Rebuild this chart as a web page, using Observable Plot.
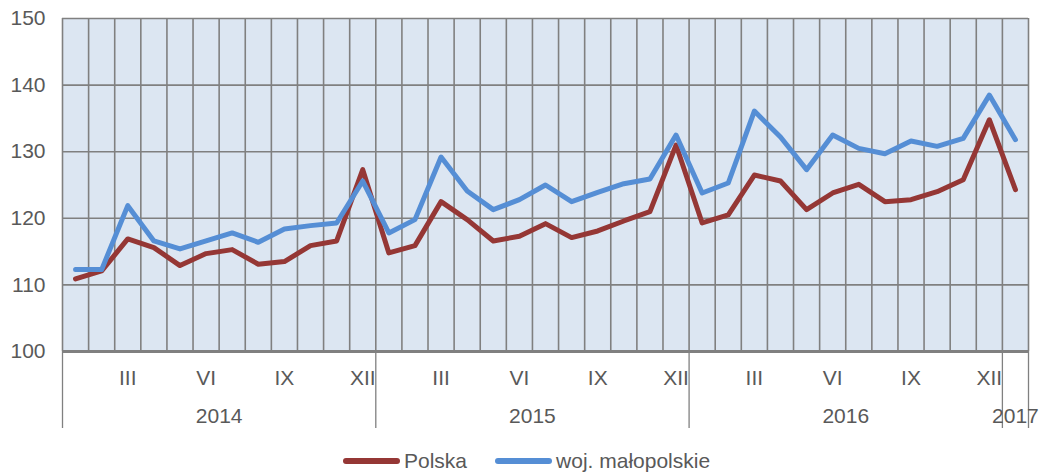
<!DOCTYPE html>
<html>
<head>
<meta charset="utf-8">
<script src="https://cdn.jsdelivr.net/npm/d3@7"></script>
<script src="https://cdn.jsdelivr.net/npm/@observablehq/plot@0.6"></script>
<style>
  html, body { margin: 0; padding: 0; background: #fff; }
  body { width: 1040px; height: 474px; position: relative; font-family: "Liberation Sans", Arial, sans-serif; }
  #legend { position: absolute; left: 343px; top: 449px; display: flex; align-items: center; font-size: 21px; color: #595959; white-space: nowrap; }
  #legend .item { display: flex; align-items: center; margin-right: 28px; }
  #legend .sw { width: 57px; height: 6px; border-radius: 3px; margin-right: 4px; }
</style>
</head>
<body>
<div id="chart"></div>
<div id="legend"></div>
<script>
// Years and number of months of each year shown
const years = [2014, 2015, 2016, 2017];
const monthsInYear = [12, 12, 12, 1];
const romanMonths = ["I","II","III","IV","V","VI","VII","VIII","IX","X","XI","XII"];
const shownMonths = ["III", "VI", "IX", "XII"];
const yTicks = [100, 110, 120, 130, 140, 150];

const seriesNames = ["Polska", "woj. małopolskie"];
const seriesColors = ["#953735", "#558ED5"];

// Values Jan 2014 .. Jan 2017
const polska = [
  110.9, 112.1, 116.9, 115.6, 112.9, 114.7, 115.3, 113.1, 113.5, 115.9, 116.6, 127.3,
  114.8, 115.9, 122.5, 119.8, 116.6, 117.3, 119.2, 117.1, 118.1, 119.6, 121.0, 131.0,
  119.3, 120.5, 126.5, 125.6, 121.3, 123.8, 125.1, 122.5, 122.8, 124.0, 125.8, 134.8,
  124.3
];
const malopolskie = [
  112.3, 112.3, 121.9, 116.6, 115.4, 116.6, 117.8, 116.4, 118.4, 118.9, 119.3, 125.6,
  117.8, 119.8, 129.2, 124.1, 121.3, 122.8, 125.0, 122.5, 123.9, 125.2, 125.9, 132.5,
  123.8, 125.3, 136.1, 132.2, 127.3, 132.5, 130.5, 129.7, 131.6, 130.8, 132.0, 138.5,
  131.8
];

// Build month table
const months = [];
years.forEach((yr, yi) => {
  for (let m = 0; m < monthsInYear[yi]; m++) months.push({year: yr, month: romanMonths[m]});
});
const n = months.length;
const rows = [];
months.forEach((d, i) => {
  rows.push({i: i + 0.5, value: polska[i], series: seriesNames[0]});
});
months.forEach((d, i) => {
  rows.push({i: i + 0.5, value: malopolskie[i], series: seriesNames[1]});
});

// Year boundaries and centers
const yearBounds = [0];
const yearCenters = [];
let acc = 0;
years.forEach((yr, yi) => {
  yearCenters.push({x: acc + monthsInYear[yi] / 2, label: String(yr)});
  acc += monthsInYear[yi];
  yearBounds.push(acc);
});
const monthLabels = months
  .map((d, i) => ({x: i + 0.5, label: d.month}))
  .filter(d => shownMonths.includes(d.label));

const grid = "#808080";
const chart = Plot.plot({
  width: 1040,
  height: 444,
  marginLeft: 62,
  marginRight: 12,
  marginTop: 18,
  marginBottom: 93,
  style: {fontFamily: "'Liberation Sans', Arial, sans-serif", fontSize: "21px", color: "#595959", background: "transparent", overflow: "visible"},
  x: {domain: [0, n], axis: null},
  y: {domain: [100, 150], axis: null},
  color: {domain: seriesNames, range: seriesColors},
  marks: [
    Plot.frame({fill: "#dce6f2", stroke: null}),
    Plot.ruleX(d3.range(0, n + 1), {stroke: grid, strokeWidth: 1.6}),
    Plot.ruleY(yTicks, {stroke: grid, strokeWidth: 1.6}),
    Plot.ruleY([100], {stroke: grid, strokeWidth: 3}),
    Plot.axisX(yearBounds, {anchor: "bottom", tickSize: 77, tickFormat: () => "", label: null, stroke: grid, strokeWidth: 1.3}),
    Plot.axisY(yTicks, {anchor: "left", tickSize: 0, tickPadding: 17, label: null, fill: "#595959", fontSize: 21}),
    Plot.text(monthLabels, {x: "x", text: "label", frameAnchor: "bottom", lineAnchor: "middle", dy: 27, fill: "#595959", fontSize: 21}),
    Plot.text(yearCenters, {x: "x", text: "label", frameAnchor: "bottom", lineAnchor: "middle", dy: 65, fill: "#595959", fontSize: 21}),
    Plot.line(rows, {x: "i", y: "value", z: "series", stroke: "series", strokeWidth: 5, strokeLinejoin: "round", strokeLinecap: "round"})
  ]
});
document.getElementById("chart").appendChild(chart);

const legend = document.getElementById("legend");
seriesNames.forEach((name, k) => {
  const item = document.createElement("div");
  item.className = "item";
  const sw = document.createElement("div");
  sw.className = "sw";
  sw.style.background = seriesColors[k];
  const t = document.createElement("span");
  t.textContent = name;
  item.appendChild(sw);
  item.appendChild(t);
  legend.appendChild(item);
});
</script>
</body>
</html>
